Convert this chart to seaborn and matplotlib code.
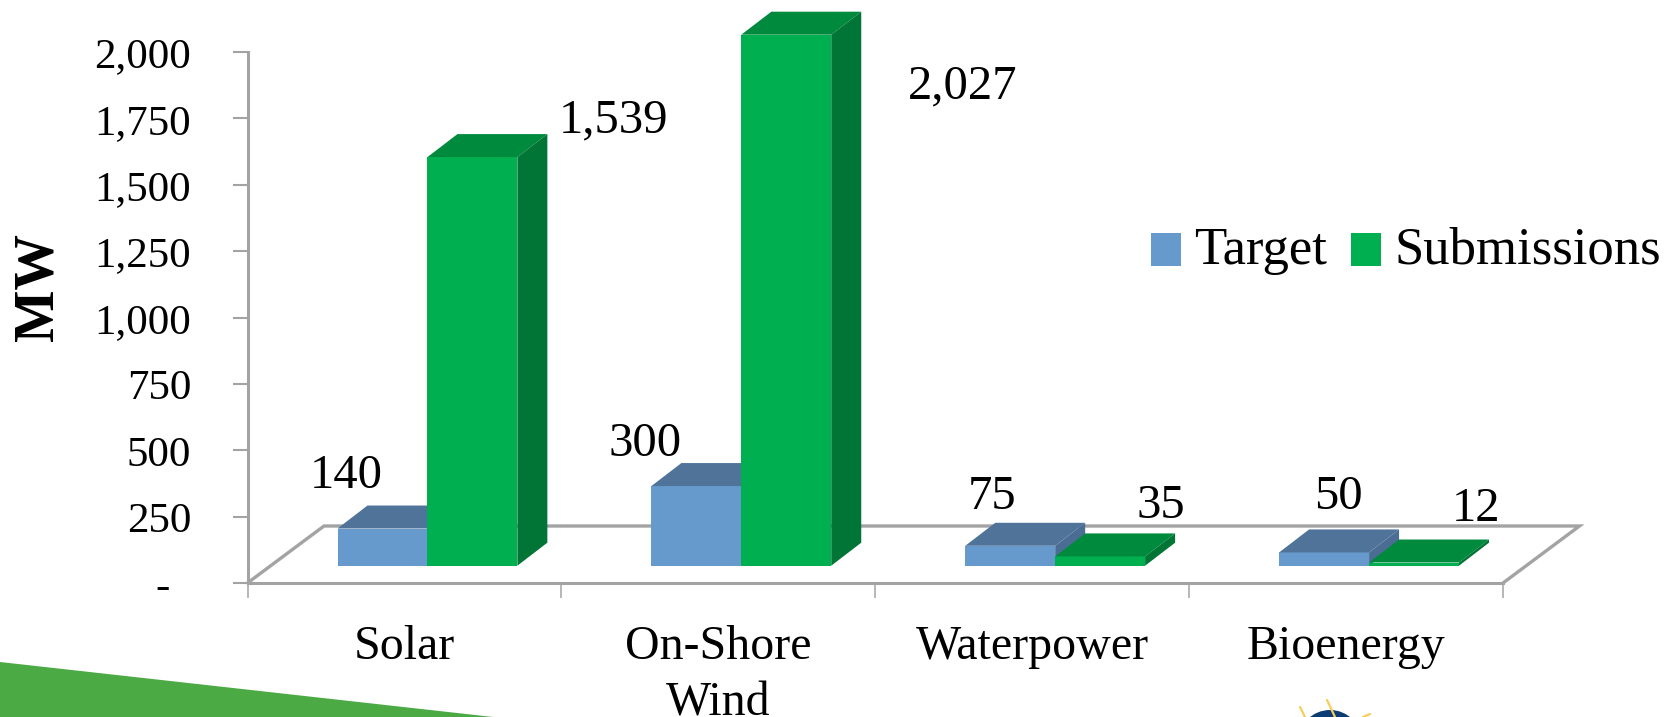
#!/usr/bin/env python3
import matplotlib
matplotlib.use("Agg")
import matplotlib.pyplot as plt
from matplotlib.patches import Circle, Polygon
from matplotlib.lines import Line2D
from matplotlib.transforms import ScaledTranslation
import pandas as pd
import seaborn as sns

categories = ["Solar", "On-Shore\nWind", "Waterpower", "Bioenergy"]
target = [140, 300, 75, 50]
submissions = [1539, 2027, 35, 12]
y_ticks = [0, 250, 500, 750, 1000, 1250, 1500, 1750, 2000]

# label offsets from the top middle of the front face, in pixels
target_label_offsets = [(-36, 41), (-51, 30), (-18, 37), (14, 43)]
submission_label_offsets = [(141, 25), (176, -64), (61, 38), (62, 42)]

W, H = 1677, 717
Y_MAX = 2000
GRAY = "#a3a3a3"
BLUE = ("#6699cc", "#4f7399", "#4b6d94")
GREEN = ("#00b050", "#008a3e", "#007535")

sns.set_style("white")
plt.rcParams["font.family"] = ["Liberation Serif", "DejaVu Serif"]
plt.rcParams["text.color"] = "black"

df = pd.DataFrame({
    "category": categories * 2,
    "MW": target + submissions,
    "series": ["Target"] * 4 + ["Submissions"] * 4,
})

fig = plt.figure(figsize=(W / 100, H / 100), dpi=100)
ax = fig.add_axes([247.5 / W, 1 - 583 / H, (1503 - 247.5) / W, (583 - 52) / H])
sns.barplot(data=df, x="category", y="MW", hue="series", width=0.573, gap=0,
            palette=[BLUE[0], GREEN[0]], saturation=1, ax=ax, legend=True, zorder=3,
            edgecolor="none", linewidth=0)
ax.set_xlim(-0.5, 3.5)
ax.set_ylim(0, Y_MAX)

# pixels to data units
px_x = 4 / (1503 - 247.5)
px_y = Y_MAX / (583 - 52)
shift_x, shift_y = 23 * px_x, 17.3 * px_y
depth_x, depth_y = 30 * px_x, 23 * px_y
floor_x, floor_y = 76.5 * px_x, 57 * px_y

# floor of the fake 3d box
ax.add_patch(Polygon([(-0.5, 0), (-0.5 + floor_x, floor_y), (3.5 + floor_x, floor_y), (3.5, 0)],
                     closed=False, fill=False, edgecolor=GRAY, lw=2.4, zorder=1,
                     clip_on=False, joinstyle="miter"))

n = len(categories)
values = target + submissions
offsets = target_label_offsets + submission_label_offsets
for i, bar in enumerate(ax.patches[:2 * n]):
    cols = BLUE if i < n else GREEN
    z = 3 + i % n * 0.1 + (0.05 if i >= n else 0)
    h = min(values[i], Y_MAX)  # the tall bar is cut at the axis top
    x0 = bar.get_x() + shift_x
    w = bar.get_width()
    bar.set_x(x0)
    bar.set_y(shift_y)
    bar.set_height(h)
    bar.set_clip_on(False)
    bar.set_zorder(z)
    top = shift_y + h
    ax.add_patch(Polygon([(x0, top), (x0 + depth_x, top + depth_y),
                          (x0 + w + depth_x, top + depth_y), (x0 + w, top)],
                         color=cols[1], lw=0, zorder=z, clip_on=False))
    ax.add_patch(Polygon([(x0 + w, shift_y), (x0 + w + depth_x, shift_y + depth_y),
                          (x0 + w + depth_x, top + depth_y), (x0 + w, top)],
                         color=cols[2], lw=0, zorder=z, clip_on=False))
    ax.annotate(f"{values[i]:,}", (x0 + w / 2, top), xytext=offsets[i], textcoords="offset pixels",
                ha="center", va="baseline", fontsize=35, color="black", zorder=10,
                annotation_clip=False)

# axis, ticks sit between the categories
sns.despine(ax=ax, top=True, right=True)
for side in ["left", "bottom"]:
    ax.spines[side].set_color(GRAY)
    ax.spines[side].set_linewidth(2.2)
ax.set_xticks(range(n))
ax.set_xticklabels(categories, linespacing=1.39)
ax.set_xticks([i - 0.5 for i in range(n + 1)], minor=True)
ax.tick_params(axis="x", which="major", length=0, pad=30, labelsize=34.5, labelcolor="black")
ax.tick_params(axis="x", which="minor", length=10.5, width=1.1, color=GRAY, bottom=True)
ax.set_yticks(y_ticks)
ax.set_yticklabels([f"{v:,}" if v else "-  " for v in y_ticks])
ax.tick_params(axis="y", length=10.5, width=1.5, color=GRAY, left=True, pad=30,
               labelsize=31, labelcolor="black")
down = ScaledTranslation(0, -0.5 / 100, fig.dpi_scale_trans)
for lab in ax.get_yticklabels():
    lab.set_transform(lab.get_transform() + down)
ax.set_xlabel("")
ax.set_ylabel("")
fig.text(38 / W, 1 - 287 / H, "MW", rotation=90, fontsize=40, fontweight="bold",
         ha="center", va="center", color="black")

handles, labels = ax.get_legend_handles_labels()
leg = ax.legend(handles, labels, ncol=2, frameon=False, fontsize=38, loc="center left",
                bbox_to_anchor=(1151 / W, 1 - 251 / H), bbox_transform=fig.transFigure,
                handlelength=0.57, handleheight=0.57, handletextpad=0.25, columnspacing=0.45,
                borderpad=0, borderaxespad=0)
for handle in leg.legend_handles:
    handle.set_y(handle.get_y() - 3)

# slide decoration along the bottom
fig.add_artist(Polygon([(0, 1 - 662 / H), (493 / W, 0), (0, 0)], closed=True,
                       color="#4caa45", lw=0, transform=fig.transFigure))
# top of the logo, cut by the picture edge
fig.add_artist(Circle((1330, -25), 32, color="#0b3c73", lw=0, transform=None))
for x1, y1, x2, y2 in [(1327, 17, 1335, 0), (1300, 10, 1305, 0), (1370, 3, 1363, 0)]:
    fig.add_artist(Line2D([x1, x2], [y1, y2], color="#f5cf5a", lw=1.6, transform=None))

fig.savefig("out.png", dpi=100)
